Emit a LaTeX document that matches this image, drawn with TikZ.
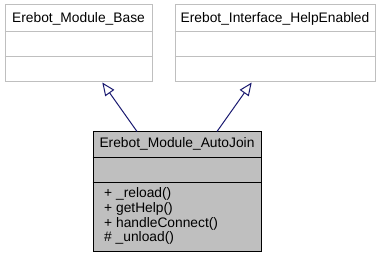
\documentclass[tikz,border=0pt]{standalone}
\usepackage{fontspec}
\setmainfont{Liberation Sans}
\usetikzlibrary{arrows.meta}
\definecolor{edgeblue}{HTML}{191970}
\definecolor{lightframe}{HTML}{BFBFBF}
\definecolor{classfill}{HTML}{BFBFBF}
\tikzset{
  umltext/.style={font=\fontsize{13.8}{14.8}\selectfont, inner sep=0pt},
  baseclass/.style={draw=lightframe, fill=white, line width=1pt, inner sep=0pt},
  mainclass/.style={draw=black, fill=classfill, line width=1pt, inner sep=0pt},
  inherit/.style={draw=edgeblue, line width=1pt,
    -{Triangle[open, length=13pt, width=11pt, fill=white]}},
}
\begin{document}
\begin{tikzpicture}[x=1pt, y=-1pt]
  \useasboundingbox (0,0) rectangle (380,259);

  % parent classes
  \node[baseclass, minimum width=147pt, minimum height=77pt] (base) at (78.5,43.5) {};
  \draw[lightframe, line width=1pt] (base.west |- 0,32) -- (base.east |- 0,32)
                                    (base.west |- 0,57) -- (base.east |- 0,57);
  \node[umltext, anchor=base] (basename) at (78.5,22.5) {Erebot\_Module\_Base};

  \node[baseclass, minimum width=200pt, minimum height=77pt] (help) at (275,43.5) {};
  \draw[lightframe, line width=1pt] (help.west |- 0,32) -- (help.east |- 0,32)
                                    (help.west |- 0,57) -- (help.east |- 0,57);
  \node[umltext, anchor=base] (helpname) at (275,22.5) {Erebot\_Interface\_HelpEnabled};

  % derived class
  \node[mainclass, minimum width=168pt, minimum height=119pt] (autojoin) at (177,191.5) {};
  \draw[black, line width=1pt] (autojoin.west |- 0,157) -- (autojoin.east |- 0,157)
                               (autojoin.west |- 0,182) -- (autojoin.east |- 0,182);
  \node[umltext, anchor=base] (ajname) at (177,147.7) {Erebot\_Module\_AutoJoin};
  \node[umltext, anchor=base west] (m1) at (104,197.5) {+ \_reload()};
  \node[umltext, anchor=base west] (m2) at (104,212.3) {+ getHelp()};
  \node[umltext, anchor=base west] (m3) at (104,227.1) {+ handleConnect()};
  \node[umltext, anchor=base west] (m4) at (104,241.9) {\# \_unload()};

  % generalisation edges
  \draw[inherit] (autojoin.north -| 137,0) -- (base.south -| 102.3,0);
  \draw[inherit] (autojoin.north -| 217,0) -- (help.south -| 251.7,0);
\end{tikzpicture}
\end{document}
